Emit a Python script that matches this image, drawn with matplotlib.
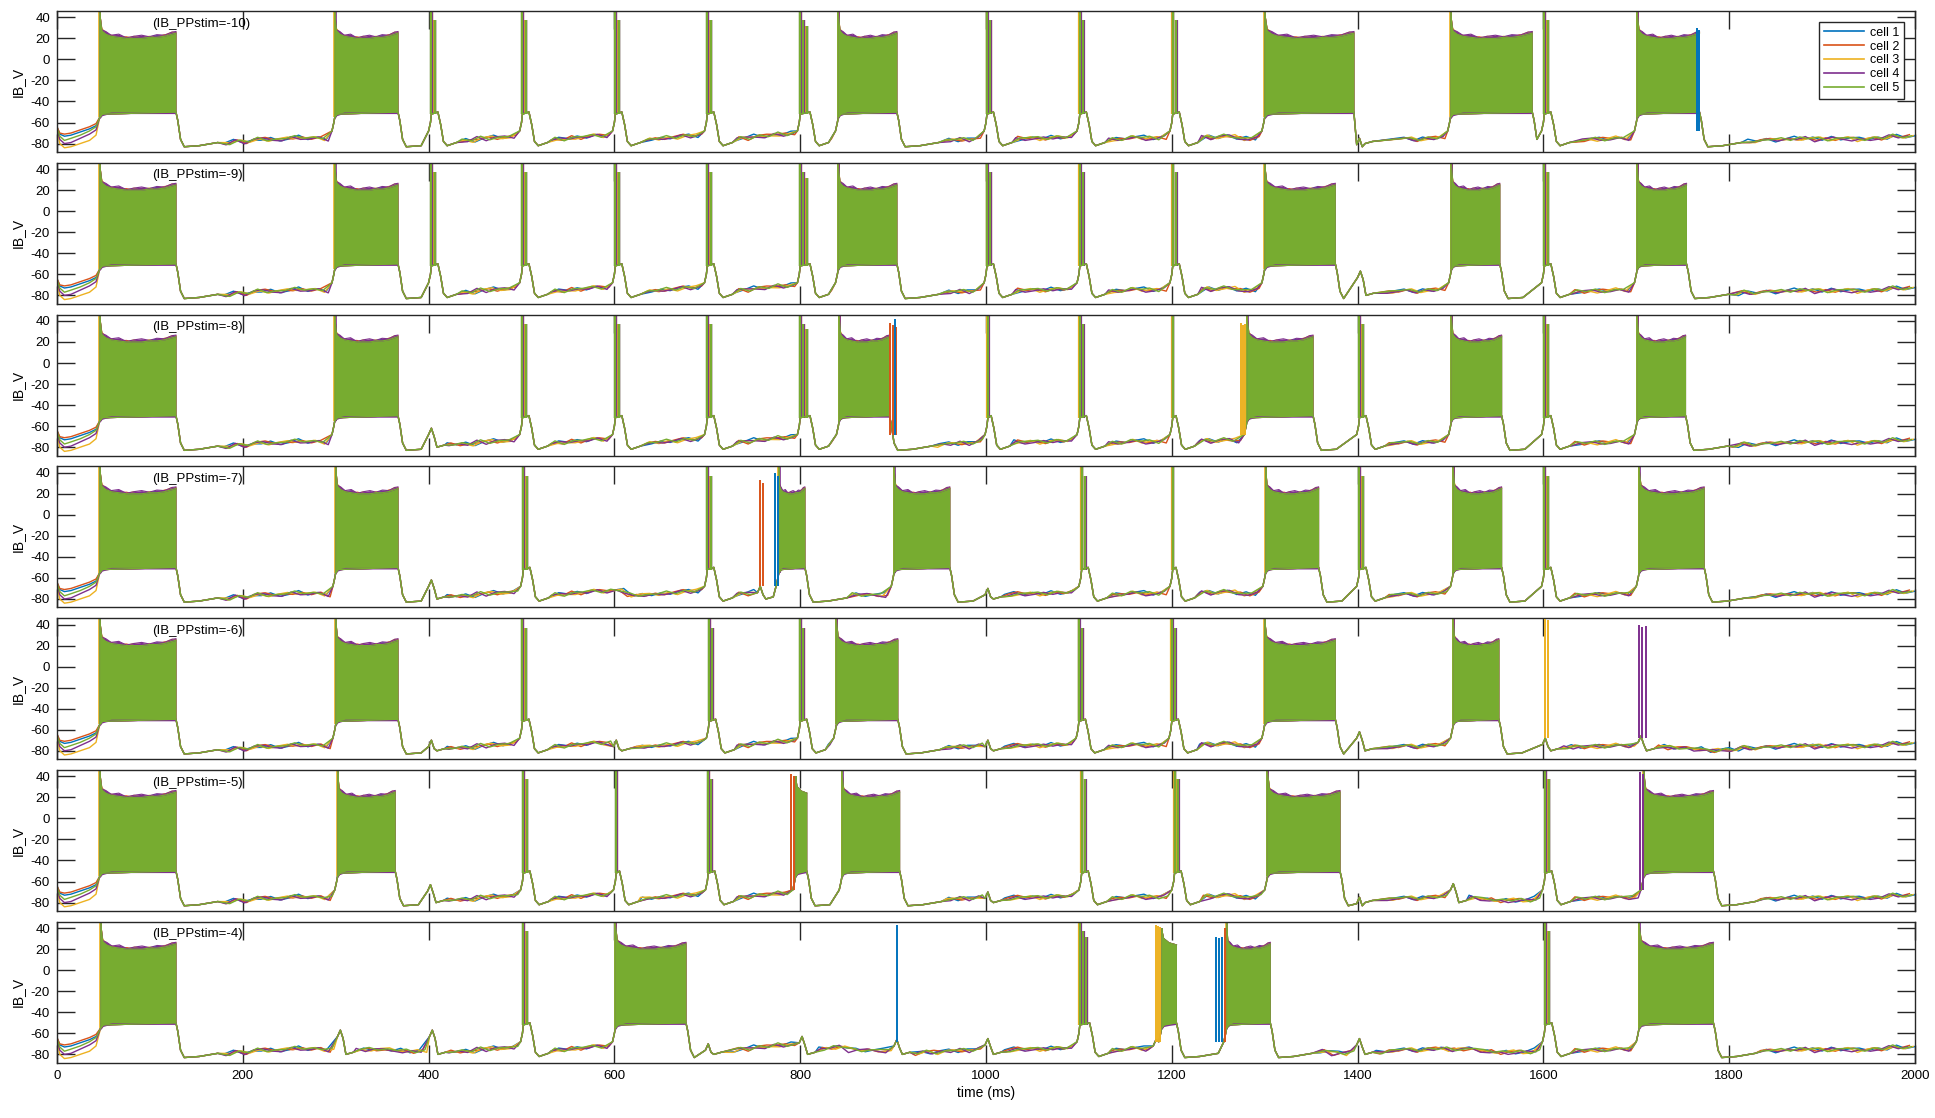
import matplotlib.pyplot as plt

plt.rcParams['font.family'] = ['Liberation Sans', 'DejaVu Sans']
plt.rcParams['axes.unicode_minus'] = False

# cells and colours (MATLAB default order)
CELLS = ['cell 1', 'cell 2', 'cell 3', 'cell 4', 'cell 5']
COLORS = ['#0072BD', '#D95319', '#EDB120', '#7E2F8E', '#77AC30']
PPSTIM = [-10, -9, -8, -7, -6, -5, -4]

# resting membrane potential read every 20 ms (shared by all runs)
BASE = [-66, -74, -66, -50, -50, -50, -50, -83, -81, -80,
        -78, -76, -76, -74, -75, -76, -76, -75, -76, -77,
        -76, -77, -77, -75, -74, -74, -76, -76, -74, -73,
        -72, -76, -76, -74, -73, -72, -76, -75, -73, -71,
        -70, -75, -73, -76, -76, -77, -79, -78, -77, -76,
        -74, -76, -75, -75, -74, -73, -76, -76, -74, -75,
        -74, -76, -74, -73, -75, -74, -76, -76, -77, -79,
        -78, -78, -76, -76, -75, -75, -75, -77, -78, -78,
        -76, -77, -76, -76, -75, -75, -76, -77, -78, -80,
        -79, -77, -77, -76, -75, -76, -75, -76, -75, -73,
        -73]

# per-cell wiggle around the shared baseline (mV)
JITTER = [[1.2, -0.8, 1.8, -1.5, 0.4, 2.0, -1.2],
          [-0.9, 1.5, -2.0, 0.7, 1.9, -0.3, 1.0, -1.6, 0.3],
          [-1.8, 0.6, 2.2, -1.3, -0.5, 1.5, -2.1, 0.9, 1.3, -0.6, 0.3],
          [-2.0, -0.6, 1.3, -1.6, 0.3, -1.2, 1.7, -2.3, 0.4, 1.2, -0.9, -1.5, 0.6],
          [0.7, 1.6, -1.0, 1.3, -0.4, 2.0, -1.4, 0.3]]
SHIFT = [0, 4, 8, 2, 6]

# first 45 ms of every run
START_T = [0, 3, 8, 15, 25, 35, 42]
START_V = [[-64, -71, -73, -72, -69, -66, -63],
           [-64, -70, -71, -70, -67, -64, -61],
           [-66, -80, -84, -83, -80, -77, -72],
           [-65, -76, -80, -79, -75, -71, -67],
           [-65, -73, -77, -75, -72, -68, -64]]

# bursts (start, end) in ms
BURSTS = [
    [(46, 128), (299, 367), (841, 904), (1300, 1396), (1500, 1588), (1701, 1768)],
    [(46, 128), (299, 367), (841, 904), (1300, 1376), (1501, 1553), (1701, 1754)],
    [(46, 128), (299, 367), (842, 896), (1281, 1352), (1501, 1555), (1701, 1753)],
    [(46, 128), (300, 367), (777, 805), (901, 961), (1301, 1358), (1503, 1555), (1703, 1773)],
    [(46, 128), (300, 367), (839, 905), (1300, 1376), (1503, 1552)],
    [(46, 128), (302, 364), (795, 807), (845, 907), (1303, 1381), (1708, 1783)],
    [(47, 128), (601, 677), (1189, 1205), (1259, 1306), (1703, 1783)],
]

# spike clusters fired by all cells: (time, number of spikes)
SPIKES = [
    [(403, 2), (501, 2), (601, 2), (700, 2), (800, 3), (1001, 2), (1101, 2), (1201, 2), (1601, 2)],
    [(403, 2), (501, 2), (601, 2), (700, 2), (800, 3), (1001, 2), (1101, 2), (1201, 2), (1601, 2)],
    [(501, 2), (601, 2), (700, 2), (800, 3), (1002, 1), (1101, 2), (1201, 1), (1402, 2), (1601, 2)],
    [(502, 2), (700, 2), (1103, 2), (1201, 1), (1402, 2), (1601, 2)],
    [(501, 2), (702, 2), (800, 2), (1100, 2), (1200, 2)],
    [(502, 2), (602, 1), (701, 2), (1103, 2), (1203, 2), (1602, 2)],
    [(502, 2), (1101, 3), (1602, 2)],
]

# subthreshold bumps: (time, peak mV)
BUMPS = [
    [(1402, -75)],
    [(1403, -57)],
    [(403, -62)],
    [(403, -62), (757, -68), (1002, -70)],
    [(403, -70), (602, -70), (1002, -70), (1402, -62), (1602, -68), (1705, -66)],
    [(402, -63), (1002, -70), (1402, -75), (1503, -62)],
    [(305, -57), (404, -57), (701, -70), (802, -63), (904, -66), (1002, -65), (1183, -66),
     (1402, -65)],
]

# spikes of single cells: (cell index, spike times, peaks)
SOLO = [
    [(0, [1765, 1768], [30, 28])],
    [],
    [(1, [897, 900, 903], [38, 36, 34]), (0, [902], [42]), (2, [1274, 1277, 1279], [38, 36, 37])],
    [(1, [757, 760], [33, 30]), (0, [773, 776], [40, 37])],
    [(2, [1602, 1605], [45, 44]), (3, [1703, 1706, 1710], [40, 38, 39])],
    [(1, [790, 793], [42, 40]), (3, [1704, 1707], [44, 42])],
    [(0, [904], [43]), (2, [1183, 1185, 1187], [43, 42, 41]), (0, [1248, 1251, 1254], [32, 31, 32]),
     (1, [1257], [40])],
]

# burst envelope shape (fraction of burst, upper / lower mV)
TOP_FRAC = [0, 0.03, 0.08, 0.15, 0.25, 0.35, 0.45, 0.55, 0.65, 0.75, 0.85, 0.95, 1.0]
TOP_V = [45, 27, 24, 22, 21, 20, 20, 20, 21, 21, 22, 24, 25]
LOW_V = [-55, -52, -51, -50, -50, -50, -50, -50, -50, -50, -50, -50, -50]
TOP_JAG = [[0, 0, 1.0, 0, 1.5, 0, 1.0, 0, 0.5, 1.5, 0, 1.0, 0],
           [0, 1.0, 0, 1.0, 0, 1.5, 0, 1.0, 0, 0, 1.5, 0, 1.0],
           [0, 2.0, 1.5, 0, 1.0, 0, 2.0, 0.5, 1.0, 0, 1.0, 2.0, 0],
           [0, 1.0, 2.5, 1.0, 3.0, 0.5, 2.0, 3.0, 0.5, 2.5, 1.0, 2.0, 1.5],
           [0, 0, 0, 0, 0, 0, 0, 0, 0, 0, 0, 0, 0]]
SHORT_FRAC = [0, 0.15, 0.5, 1.0]
SHORT_TOP = [40, 30, 26, 24]
SHORT_LOW = [-55, -52, -51, -50]
LOW_OFF = [-0.3, -0.2, -0.5, -1.5, 0.0]
SPIKE_PEAKS = [45, 37, 32]
SPIKE_DT = [0, 0.4, -0.4, 0.8, 0]


def cell_knots(p, c):
    events = []
    for s, e in BURSTS[p]:
        pre = [] if s < 60 else [(s - 3, -68), (s - 1, -60)]
        kn = pre + [(s, -55), (s + 3, -52), (e, -50), (e + 2, -58), (e + 5, -76),
                    (e + 9, -83), (e + 25, -82), (e + 45, -79)]
        events.append((s - 5 if s > 60 else 40, e + 50, kn))
    for t, n in SPIKES[p]:
        d = t + 3.5 * n
        kn = [(t - 3, -68), (t - 1, -60), (t, -52), (d, -50), (d + 3, -62), (d + 6, -78),
              (d + 10, -82), (d + 20, -79)]
        events.append((t - 5, d + 22, kn))
    for t, v in BUMPS[p]:
        kn = [(t - 3, v - 6), (t, v), (t + 3, v - 8), (t + 6, -80), (t + 14, -78)]
        events.append((t - 5, t + 16, kn))
    events.sort(key=lambda ev: ev[0])
    pts = list(zip(START_T, START_V[c]))
    for i, (w0, w1, kn) in enumerate(events):
        nxt = events[i + 1][0] if i + 1 < len(events) else 2001
        pts += [(t, v) for t, v in kn if t < nxt]
    jit = JITTER[c]
    for k in range(5, 201):
        t = 10 * k + SHIFT[c]
        if t > 2000:
            break
        if any(w0 <= t <= w1 for w0, w1, _ in events):
            continue
        pts.append((t, BASE[int(round(t / 20))] + jit[k % len(jit)]))
    pts.sort()
    return [q[0] for q in pts], [q[1] for q in pts]


fig = plt.figure(figsize=(19.35, 11.18), dpi=100)
W, H = 1935.0, 1118.0
axes = []
for p in range(7):
    top = 11 + p * 151.8
    ax = fig.add_axes([57 / W, 1 - (top + 141) / H, 1858 / W, 141 / H])
    axes.append(ax)
    for c in range(5):
        col = COLORS[c]
        tx, vx = cell_knots(p, c)
        ax.plot(tx, vx, color=col, lw=1.0, zorder=2)
        for s, e in BURSTS[p]:
            if e - s < 25:
                fr, up, lv = SHORT_FRAC, list(SHORT_TOP), SHORT_LOW
            else:
                fr, lv = TOP_FRAC, LOW_V
                up = [v + j for v, j in zip(TOP_V, TOP_JAG[c])]
            xs = [s + f * (e - s) for f in fr]
            lo = [v + LOW_OFF[c] for v in lv]
            ax.fill_between(xs, lo, up, color=col, lw=0, zorder=2)
            ax.plot(xs[1:], up[1:], color=col, lw=0.8, zorder=2)
            ax.vlines([s + SPIKE_DT[c]], -55, up[0], color=col, lw=1.2, zorder=2)
        for t, n in SPIKES[p]:
            ts = [t + SPIKE_DT[c] + 3.5 * i for i in range(n)]
            ax.vlines(ts, -52, SPIKE_PEAKS[:n], color=col, lw=1.6, zorder=2)
    for c, ts, pk in SOLO[p]:
        ax.vlines(ts, -68, pk, color=COLORS[c], lw=1.4, zorder=3)

    ax.set_xlim(0, 2000)
    ax.set_ylim(-88, 46)
    ax.set_yticks(range(-80, 41, 20))
    ax.set_xticks(range(0, 2001, 200))
    ax.tick_params(direction='in', length=13, width=1, top=True, right=True,
                   labelsize=9.5, pad=5, color='#262626')
    for sp in ax.spines.values():
        sp.set_linewidth(1.0)
        sp.set_color('#262626')
    ax.set_ylabel('IB_V', fontsize=10)
    ax.text(102, 34, '(IB_PPstim=%d)' % PPSTIM[p], fontsize=9.5, va='center', ha='left')
    if p < 6:
        ax.set_xticklabels([])

axes[-1].set_xlabel('time (ms)', fontsize=10, labelpad=3)

handles = [axes[0].plot([], [], color=COLORS[c], lw=1.2, label=CELLS[c])[0] for c in range(5)]
leg = axes[0].legend(handles=handles, loc='upper right', fontsize=9, fancybox=False,
                     framealpha=1, edgecolor='#262626', labelspacing=0.15, handlelength=3.2,
                     borderpad=0.35, borderaxespad=0.9, handletextpad=0.5)
leg.get_frame().set_linewidth(1.0)
leg.set_zorder(10)

fig.savefig('out.png', dpi=100)
